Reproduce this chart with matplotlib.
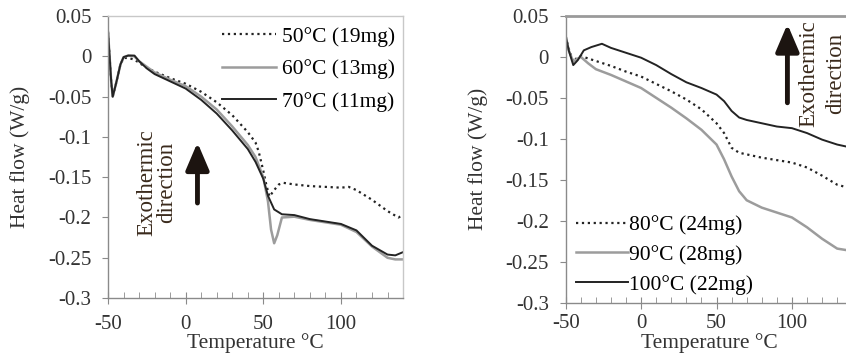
import matplotlib
matplotlib.use('Agg')
import matplotlib.pyplot as plt
from matplotlib.ticker import MultipleLocator, FixedLocator
import numpy as np

plt.rcParams['font.family'] = ['Liberation Serif', 'DejaVu Serif']

# left panel data (temperature, heat flow)
t50 = [-50, -48, -47, -45, -42, -40, -37, -33, -30, -25, -20, -10, 0, 10, 20, 30, 40, 45, 47,
       50, 52, 54, 57, 60, 63, 70, 80, 90, 100, 105, 110, 120, 130, 137, 140]
h50 = [0.03, -0.03, -0.05, -0.035, -0.01, -0.002, -0.002, -0.004, -0.008, -0.014, -0.019,
       -0.027, -0.034, -0.044, -0.057, -0.073, -0.094, -0.107, -0.118, -0.142, -0.16,
       -0.174, -0.166, -0.159, -0.157, -0.159, -0.161, -0.162, -0.163, -0.162, -0.166,
       -0.178, -0.192, -0.2, -0.197]
t60 = [-50, -48, -47, -45, -42, -40, -37, -33, -30, -25, -20, -10, 0, 10, 20, 30, 40, 45,
       50, 53, 55, 57, 59, 62, 70, 80, 90, 100, 110, 120, 130, 135, 140]
h60 = [0.03, -0.03, -0.05, -0.035, -0.01, -0.001, 0.001, 0.0, -0.006, -0.013, -0.02,
       -0.029, -0.037, -0.05, -0.066, -0.087, -0.11, -0.125, -0.15, -0.18, -0.215, -0.232,
       -0.222, -0.2, -0.199, -0.203, -0.206, -0.209, -0.218, -0.236, -0.25, -0.252, -0.252]
t70 = [-50, -48, -47, -45, -42, -40, -37, -33, -30, -25, -20, -10, 0, 10, 20, 30, 40, 45,
       50, 53, 57, 62, 70, 80, 90, 100, 110, 120, 130, 135, 140]
h70 = [0.03, -0.03, -0.05, -0.035, -0.01, -0.001, 0.001, 0.001, -0.006, -0.015, -0.022,
       -0.031, -0.04, -0.054, -0.071, -0.092, -0.115, -0.131, -0.152, -0.173, -0.19,
       -0.196, -0.197, -0.202, -0.205, -0.208, -0.216, -0.235, -0.246, -0.247, -0.243]

# right panel data
t80 = [-50, -48, -45, -42, -40, -30, -20, -10, 0, 10, 20, 30, 40, 50, 55, 60, 65, 70, 80,
       90, 100, 110, 120, 130, 140]
h80 = [0.025, 0.01, -0.006, 0.0, 0.001, -0.005, -0.011, -0.018, -0.024, -0.033, -0.042,
       -0.052, -0.064, -0.081, -0.093, -0.111, -0.117, -0.119, -0.123, -0.126, -0.129,
       -0.135, -0.145, -0.156, -0.161]
t90 = [-50, -48, -45, -42, -40, -35, -30, -20, -10, 0, 10, 20, 30, 40, 50, 55, 60, 65, 70,
       80, 90, 100, 110, 120, 130, 140]
h90 = [0.025, 0.008, -0.006, -0.002, 0.0, -0.008, -0.015, -0.022, -0.03, -0.038, -0.05,
       -0.062, -0.075, -0.089, -0.107, -0.125, -0.146, -0.164, -0.175, -0.184, -0.19,
       -0.196, -0.208, -0.222, -0.234, -0.237]
t100 = [-50, -48, -45, -42, -38, -33, -26, -20, -10, 0, 10, 20, 30, 40, 50, 55, 60, 65, 70,
        80, 90, 100, 110, 120, 130, 140]
h100 = [0.025, 0.008, -0.01, -0.004, 0.008, 0.012, 0.016, 0.011, 0.005, -0.001, -0.01,
        -0.021, -0.031, -0.038, -0.046, -0.054, -0.066, -0.074, -0.077, -0.081, -0.085,
        -0.087, -0.093, -0.101, -0.107, -0.111]

labels_left = ['50°C (19mg)', '60°C (13mg)', '70°C (11mg)']
labels_right = ['80°C (24mg)', '90°C (28mg)', '100°C (22mg)']
xticks = [-50, 0, 50, 100]
yticks = [-0.3, -0.25, -0.2, -0.15, -0.1, -0.05, 0, 0.05]
yticklabels = ['-0.3', '-0.25', '-0.2', '-0.15', '-0.1', '-0.05', '0', '0.05']

GRAY = '#9c9c9c'
DARK = '#232323'
SPINE = '#8a8a8a'
TXT = '#333333'
FS = 15
ARROW = dict(arrowstyle='-|>,head_width=0.32,head_length=0.75', color='#1c1410', lw=3.5,
             mutation_scale=22, shrinkA=0, shrinkB=0)


def style_axes(ax, top_color, top_lw, xlab_y, ylab_x, xpad):
    ax.set_xlim(-50, 140)
    ax.set_ylim(-0.3, 0.05)
    ax.xaxis.set_major_locator(FixedLocator(xticks))
    ax.xaxis.set_minor_locator(MultipleLocator(10))
    ax.yaxis.set_major_locator(FixedLocator(yticks))
    ax.set_yticklabels(yticklabels)
    ax.set_xticklabels([str(v) for v in xticks])
    for s in ['left', 'bottom']:
        ax.spines[s].set_color(SPINE)
        ax.spines[s].set_linewidth(1.0)
    ax.spines['top'].set_color(top_color)
    ax.spines['top'].set_linewidth(top_lw)
    ax.spines['right'].set_color('#c8c8c8')
    ax.spines['right'].set_linewidth(1.0)
    ax.tick_params(axis='x', which='major', direction='inout', length=8, color=SPINE,
                   labelsize=FS, pad=xpad, labelcolor=TXT)
    ax.tick_params(axis='x', which='minor', direction='in', length=4, color=SPINE)
    ax.tick_params(axis='y', which='major', direction='out', length=4, color=SPINE,
                   labelsize=FS, pad=8, labelcolor=TXT)
    ax.set_xlabel('Temperature °C', fontsize=FS + 0.5, color=TXT)
    ax.set_ylabel('Heat flow (W/g)', fontsize=FS + 0.5, color=TXT)
    ax.xaxis.set_label_coords(0.5, xlab_y)
    ax.yaxis.set_label_coords(ylab_x, 0.5)


fig = plt.figure(figsize=(8.46, 3.54), dpi=100)

ax1 = fig.add_axes([0.1277, 0.158, 0.3487, 0.7966])
ax1.plot(t50, h50, ':', color=DARK, lw=1.6, label=labels_left[0])
ax1.plot(t60, h60, '-', color=GRAY, lw=1.8, label=labels_left[1])
ax1.plot(t70, h70, '-', color=DARK, lw=1.4, label=labels_left[2])
style_axes(ax1, '#c8c8c8', 1.0, -0.125, -0.265, 8)
ax1.legend(loc='upper right', bbox_to_anchor=(1.01, 1.0), frameon=False, fontsize=FS + 0.5,
           handlelength=2.5, handletextpad=0.28, labelspacing=0.58, borderaxespad=0.1)
ax1.text(-25, -0.157, 'Exothermic', rotation=90, fontsize=FS + 1.5, color='#3a2a1c',
         ha='center', va='center')
ax1.text(-12.5, -0.157, 'direction', rotation=90, fontsize=FS + 1.5, color='#3a2a1c',
         ha='center', va='center')
ax1.annotate('', xy=(7.6, -0.107), xytext=(7.6, -0.182), arrowprops=ARROW)

ax2 = fig.add_axes([0.6687, 0.145, 0.3387, 0.81])
ax2.plot(t80, h80, ':', color=DARK, lw=1.6, label=labels_right[0])
ax2.plot(t90, h90, '-', color=GRAY, lw=1.8, label=labels_right[1])
ax2.plot(t100, h100, '-', color=DARK, lw=1.4, label=labels_right[2])
style_axes(ax2, '#9a9a9a', 2.0, -0.106, -0.27, 4)
ax2.legend(loc='lower left', bbox_to_anchor=(0.0, -0.01), frameon=False, fontsize=FS + 0.5,
           handlelength=2.4, handletextpad=0.05, labelspacing=0.45, borderaxespad=0.1)
ax2.text(111.5, -0.02, 'Exothermic', rotation=90, fontsize=FS + 1.5, color='#3a2a1c',
         ha='center', va='center')
ax2.text(129, -0.02, 'direction', rotation=90, fontsize=FS + 1.5, color='#3a2a1c',
         ha='center', va='center')
ax2.annotate('', xy=(97, 0.04), xytext=(97, -0.056), arrowprops=ARROW)

fig.savefig('out.png', dpi=100)
